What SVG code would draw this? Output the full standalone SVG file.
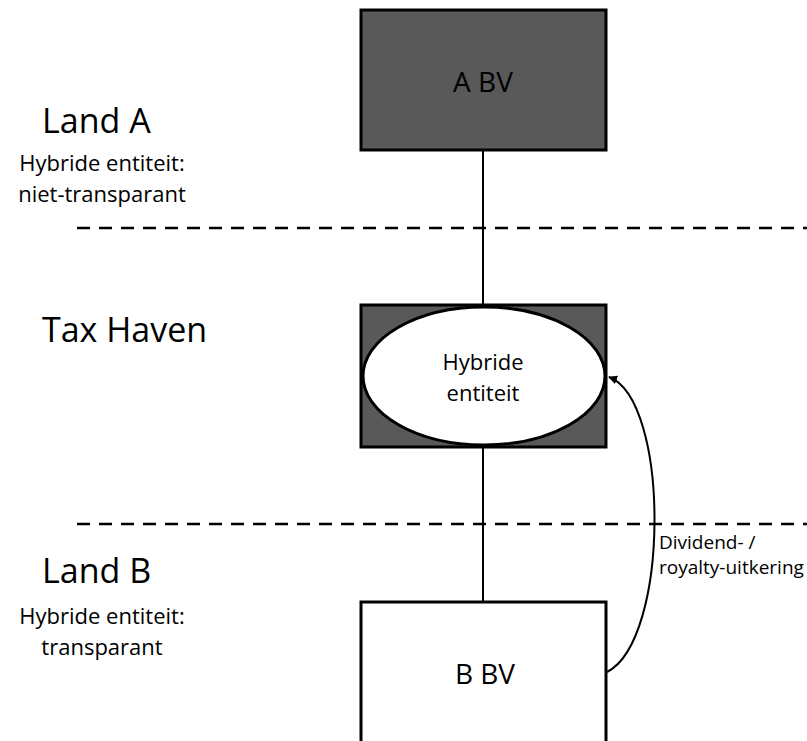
<svg xmlns="http://www.w3.org/2000/svg" width="807" height="741" viewBox="0 0 807 741">
  <style>
    text { font-family: "Open Sans", "Liberation Sans", sans-serif; fill: #000; }
    .title { font-size: 34px; }
    .sub { font-size: 22px; text-anchor: middle; }
    .node { font-size: 28px; text-anchor: middle; }
    .inner { font-size: 22px; text-anchor: middle; }
    .lbl { font-size: 19px; }
    .box { stroke: #000; stroke-width: 3; }
    .dark { fill: #595959; }
    .light { fill: #fff; }
    .border { fill: none; stroke: #000; stroke-width: 2.5; stroke-dasharray: 13 9; }
    .link { fill: none; stroke: #000; stroke-width: 2; }
  </style>
  <defs>
    <marker id="arrow" viewBox="0 0 10 10" refX="9" refY="5" markerWidth="9" markerHeight="9" markerUnits="userSpaceOnUse" orient="auto">
      <path d="M0,0 L10,5 L0,10 z" fill="#000"/>
    </marker>
  </defs>

  <rect width="807" height="741" fill="#fff"/>

  <!-- jurisdiction borders -->
  <g id="borders">
    <line class="border" x1="77" y1="228" x2="807" y2="228"/>
    <line class="border" x1="77" y1="524" x2="807" y2="524"/>
  </g>

  <!-- jurisdiction labels -->
  <g id="land-a-label">
    <text class="title" x="42" y="133">Land A</text>
    <text class="sub" x="102" y="171">Hybride entiteit:</text>
    <text class="sub" x="102" y="202">niet-transparant</text>
  </g>
  <g id="tax-haven-label">
    <text class="title" x="42" y="342">Tax Haven</text>
  </g>
  <g id="land-b-label">
    <text class="title" x="42" y="583">Land B</text>
    <text class="sub" x="102" y="624">Hybride entiteit:</text>
    <text class="sub" x="102" y="655">transparant</text>
  </g>

  <!-- connectors -->
  <g id="connectors">
    <line class="link" x1="483" y1="150" x2="483" y2="305"/>
    <line class="link" x1="483" y1="447" x2="483" y2="602"/>
    <path class="link" d="M607,672 C670,640 670,400 609,377" marker-end="url(#arrow)"/>
    <text class="lbl" x="659" y="549">Dividend- /</text>
    <text class="lbl" x="659" y="574">royalty-uitkering</text>
  </g>

  <!-- nodes -->
  <g id="a-bv">
    <rect class="box dark" x="361" y="10" width="245" height="140"/>
    <text class="node" x="483" y="92">A BV</text>
  </g>
  <g id="hybride-entiteit">
    <rect class="box dark" x="361" y="305" width="245" height="142"/>
    <ellipse class="box light" cx="484" cy="376" rx="121" ry="69"/>
    <text class="inner" x="483" y="370">Hybride</text>
    <text class="inner" x="483" y="401">entiteit</text>
  </g>
  <g id="b-bv">
    <rect class="box light" x="361" y="602" width="245" height="160"/>
    <text class="node" x="485" y="684">B BV</text>
  </g>
</svg>
